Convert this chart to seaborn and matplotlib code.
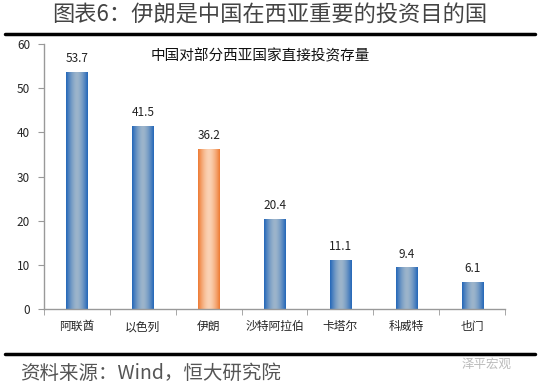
import numpy as np
import pandas as pd
import matplotlib
matplotlib.use('Agg')
import matplotlib.pyplot as plt
import seaborn as sns

""" Data """
countries = ['阿联酋', '以色列', '伊朗', '沙特阿拉伯', '卡塔尔', '科威特', '也门']
stock = [53.7, 41.5, 36.2, 20.4, 11.1, 9.4, 6.1]
highlight = '伊朗'

sns.set_style("white")
plt.rcParams['font.family'] = ['Noto Sans CJK SC', 'DejaVu Sans']

df = pd.DataFrame({'country': countries, 'value': stock})

fig = plt.figure(figsize=(5.39, 3.87), dpi=100)
ax = fig.add_axes([44/539, 1-309/387, (505-44)/539, (309-44)/387])

sns.barplot(data=df, x='country', y='value', ax=ax, width=0.32, color='#2E6DB4', saturation=1)

# horizontal gradient fill on each bar (dark edges, light centre)
def gradient(edge, mid):
    t = np.linspace(-1, 1, 64)
    w = np.abs(t) ** 1.6
    e = np.array(matplotlib.colors.to_rgb(edge))
    m = np.array(matplotlib.colors.to_rgb(mid))
    row = m[None, :] * (1 - w[:, None]) + e[None, :] * w[:, None]
    return row[None, :, :]

blue = gradient('#2266B8', '#9DB5CB')
orange = gradient('#EE7A32', '#FBD3B5')
for patch, name in zip(ax.patches, countries):
    x0, y0 = patch.get_x(), patch.get_y()
    w, h = patch.get_width(), patch.get_height()
    img = ax.imshow(orange if name == highlight else blue, extent=[x0, x0 + w, y0, y0 + h],
                    aspect='auto', zorder=patch.get_zorder() + 0.1, interpolation='bicubic')
    img.set_clip_path(patch)
    ax.text(x0 + w/2, h + 1.5, f'{h:.1f}', ha='center', va='bottom', fontsize=8.5, color='#222222')

ax.set_xlim(-0.5, len(countries) - 0.5)
ax.set_ylim(0, 60)
ax.set_yticks(range(0, 61, 10))
ax.set_xlabel('')
ax.set_ylabel('')
for s in ['top', 'right']:
    ax.spines[s].set_visible(False)
for s in ['left', 'bottom']:
    ax.spines[s].set_color('#999999')
    ax.spines[s].set_linewidth(1)
ax.tick_params(axis='y', direction='out', length=4, color='#999999', labelsize=8.5, pad=6, left=True)
ax.tick_params(axis='x', length=0, labelsize=8.5, pad=8)
# minor ticks between categories
ax.set_xticks(np.arange(-0.5, len(countries), 1), minor=True)
ax.tick_params(axis='x', which='minor', direction='out', length=4, color='#999999', bottom=True)

ax.text(0.47, 0.955, '中国对部分西亚国家直接投资存量', transform=ax.transAxes,
        ha='center', va='center', fontsize=10.5, color='#111111')

""" Frame: title, rules, source """
fig.text(0.5, 1-15/387, '图表6：伊朗是中国在西亚重要的投资目的国', ha='center', va='center',
         fontsize=16, color='#444444', fontweight='light')
fig.add_artist(plt.Line2D([5/539, 535/539], [1-34/387, 1-34/387], color='black', lw=2.5))
fig.add_artist(plt.Line2D([5/539, 535/539], [1-354/387, 1-354/387], color='black', lw=2.5))
fig.text(20/539, 1-373/387, '资料来源：Wind，恒大研究院', ha='left', va='center',
         fontsize=14, color='#555555', style='italic', fontweight='light')
fig.text(462/539, 1-364/387, '泽平宏观', ha='left', va='center', fontsize=9, color='#bbbbbb')

plt.savefig('out.png', dpi=100)
